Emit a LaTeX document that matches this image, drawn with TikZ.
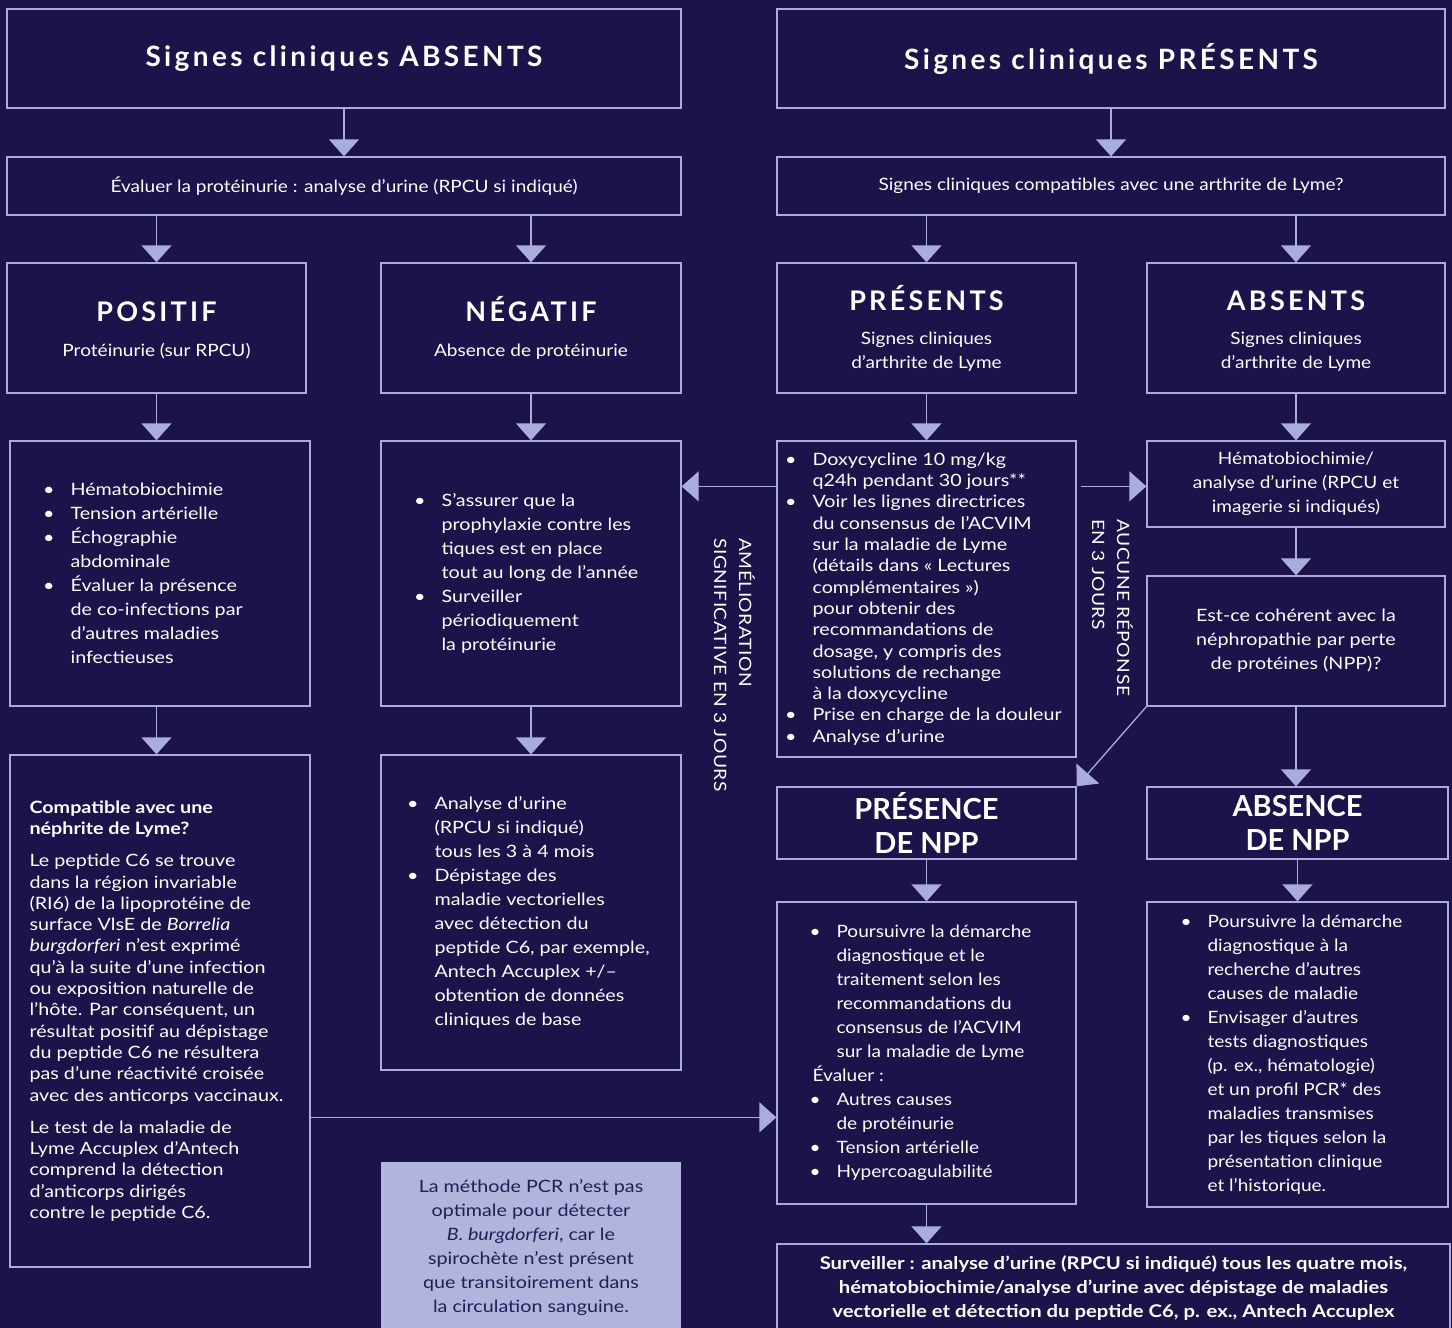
\documentclass[tikz,border=0pt]{standalone}
\usepackage{fontspec}
\setmainfont{Lato}[FakeStretch=1.16]
\newfontfamily\condfont[FakeStretch=1.12]{Lato}
\newfontfamily\plainfont{Lato}
\newfontfamily\headfont[LetterSpace=12]{Lato}
\newfontfamily\capsfont[LetterSpace=3,FakeStretch=1.13]{Lato}
\usetikzlibrary{arrows.meta}

\definecolor{navy}{HTML}{1B1349}
\definecolor{lav}{HTML}{A9ADDB}
\definecolor{notefill}{HTML}{B1B5DE}
\definecolor{notetext}{HTML}{241E58}

\newcommand{\bul}{\llap{\textbullet\hspace{16pt}}}
\newcommand{\tophead}{\headfont\bfseries\fontsize{28}{32}\selectfont}
\newcommand{\bighead}{\headfont\bfseries\fontsize{27}{32}\selectfont\vphantom{É}}
\newcommand{\npphead}{\plainfont\bfseries\fontsize{29}{34}\selectfont}

\tikzset{
  box/.style={draw=lav, line width=1.3pt, inner sep=0pt, text=white, align=center,
    font=\condfont\fontsize{17}{24}\selectfont},
  txt/.style={anchor=west, inner sep=0pt, text=white, align=left,
    font=\fontsize{17}{24}\selectfont},
  vlab/.style={rotate=-90, anchor=north west, inner sep=0pt, text=white, align=left,
    font=\capsfont\fontsize{17}{25}\selectfont},
  arr/.style={draw=lav, line width=1.3pt, -{Triangle[length=17pt,width=30pt,fill=lav]}},
}

\begin{document}
\begin{tikzpicture}[x=1pt, y=-1pt]

        \useasboundingbox (0,0) rectangle (1452,1328);
        \clip (0,0) rectangle (1452,1328);
        \fill[navy] (0,0) rectangle (1452,1328);

        % top row
        \node[box, minimum width=674pt, minimum height=99pt] (cabs) at (344,58.5) {{\tophead Signes cliniques ABSENTS}};
        \node[box, minimum width=668pt, minimum height=99pt] (cpres) at (1111,58.5) {{\tophead Signes cliniques PRÉSENTS}};

        \node[box, minimum width=674pt, minimum height=58pt] (evalp) at (344,186) {Évaluer la protéinurie : analyse d’urine (RPCU si indiqué)};
        \node[box, minimum width=668pt, minimum height=58pt] (compat) at (1111,186) {Signes cliniques compatibles avec une arthrite de Lyme?};

        % results
        \node[box, minimum width=299pt, minimum height=130pt] (posit) at (156.5,328) {{\bighead POSITIF}\\[11pt] Protéinurie (sur RPCU)};
        \node[box, minimum width=300pt, minimum height=130pt] (negat) at (531,328) {{\bighead NÉGATIF}\\[11pt] Absence de protéinurie};
        \node[box, minimum width=299pt, minimum height=130pt] (presa) at (926.5,328) {{\bighead PRÉSENTS}\\[10pt] Signes cliniques\\ d’arthrite de Lyme};
        \node[box, minimum width=298pt, minimum height=130pt] (absa) at (1296,328) {{\bighead ABSENTS}\\[10pt] Signes cliniques\\ d’arthrite de Lyme};

        % bullet boxes
        \node[box, minimum width=300pt, minimum height=265pt] (bilan) at (160,573.5) {};
        \node[txt] (bilan-t) at ([xshift=61pt]bilan.west) {\bul Hématobiochimie\\ \bul Tension artérielle\\ \bul Échographie\\ abdominale\\ \bul Évaluer la présence\\ de co-infections par\\ d’autres maladies\\ infectieuses};

        \node[box, minimum width=300pt, minimum height=265pt] (suivi) at (531,573.5) {};
        \node[txt] (suivi-t) at ([xshift=61pt]suivi.west) {\bul S’assurer que la\\ prophylaxie contre les\\ tiques est en place\\ tout au long de l’année\\ \bul Surveiller\\ périodiquement\\ la protéinurie};

        \node[box, minimum width=299pt, minimum height=316pt] (doxy) at (926.5,599) {};
        \node[txt, font=\fontsize{17}{21.3}\selectfont] (doxy-t) at ([xshift=36pt]doxy.west) {\bul Doxycycline 10 mg/kg\\ q24h pendant 30 jours**\\ \bul Voir les lignes directrices\\ du consensus de l’ACVIM\\ sur la maladie de Lyme\\ (détails dans « Lectures\\ complémentaires »)\\ pour obtenir des\\ recommandations de\\ dosage, y compris des\\ solutions de rechange\\ à la doxycycline\\ \bul Prise en charge de la douleur\\ \bul Analyse d’urine};

        \node[box, minimum width=298pt, minimum height=86pt] (hemato) at (1296,484) {Hématobiochimie/\\ analyse d’urine (RPCU et\\ imagerie si indiqués)};
        \node[box, minimum width=298pt, minimum height=130pt, font=\fontsize{17}{24}\selectfont] (nppq) at (1296,641) {Est-ce cohérent avec la\\ néphropathie par perte\\ de protéines (NPP)?};

        % lower left
        \node[box, minimum width=300pt, minimum height=512pt] (nephr) at (160,1011) {};
        \node[txt, font=\fontsize{17}{21.3}\selectfont] (nephr-t) at ([xshift=20pt]nephr.west) {\textbf{Compatible avec une}\\ \textbf{néphrite de Lyme?}\\[11pt] Le peptide C6 se trouve\\ dans la région invariable\\ (RI6) de la lipoprotéine de\\ surface VlsE de \textit{Borrelia}\\ \textit{burgdorferi} n’est exprimé\\ qu’à la suite d’une infection\\ ou exposition naturelle de\\ l'hôte. Par conséquent, un\\ résultat positif au dépistage\\ du peptide C6 ne résultera\\ pas d'une réactivité croisée\\ avec des anticorps vaccinaux.\\[11pt] Le test de la maladie de\\ Lyme Accuplex d’Antech\\ comprend la détection\\ d’anticorps dirigés\\ contre le peptide C6.};

        \node[box, minimum width=300pt, minimum height=315pt] (analyse) at (531,912.5) {};
        \node[txt] (analyse-t) at ([xshift=54pt]analyse.west) {\bul Analyse d’urine\\ (RPCU si indiqué)\\ tous les 3 à 4 mois\\ \bul Dépistage des\\ maladie vectorielles\\ avec détection du\\ peptide C6, par exemple,\\ Antech Accuplex +/–\\ obtention de données\\ cliniques de base};

        \node[box, draw=none, fill=notefill, text=notetext, font=\fontsize{17}{24}\selectfont, minimum width=300pt, minimum height=172pt] (pcr) at (531,1248) {La méthode PCR n’est pas\\ optimale pour détecter\\ \textit{B. burgdorferi}, car le\\ spirochète n’est présent\\ que transitoirement dans\\ la circulation sanguine.};

        % NPP
        \node[box, minimum width=299pt, minimum height=72pt, font=\npphead] (prnpp) at (926.5,823) {PRÉSENCE\\ DE NPP};
        \node[box, minimum width=301pt, minimum height=72pt, font=\npphead] (abnpp) at (1297.5,823) {ABSENCE\\ DE NPP};

        \node[box, minimum width=299pt, minimum height=302pt] (poursuite) at (926.5,1053) {};
        \node[txt, font=\condfont\fontsize{17}{24}\selectfont] (poursuite-t) at ([xshift=60pt]poursuite.west) {\bul Poursuivre la démarche\\ diagnostique et le\\ traitement selon les\\ recommandations du\\ consensus de l’ACVIM\\ sur la maladie de Lyme\\ \hspace*{-24pt}Évaluer :\\ \bul Autres causes\\ de protéinurie\\ \bul Tension artérielle\\ \bul Hypercoagulabilité};

        \node[box, minimum width=301pt, minimum height=305pt] (autres) at (1297.5,1054.5) {};
        \node[txt, font=\condfont\fontsize{17}{24}\selectfont] (autres-t) at ([xshift=61pt]autres.west) {\bul Poursuivre la démarche\\ diagnostique à la\\ recherche d’autres\\ causes de maladie\\ \bul Envisager d’autres\\ tests diagnostiques\\ (p. ex., hématologie)\\ et un profil PCR* des\\ maladies transmises\\ par les tiques selon la\\ présentation clinique\\ et l’historique.};

        \node[box, minimum width=673pt, minimum height=88pt, font=\bfseries\fontsize{17.5}{24}\selectfont] (surv) at (1113.5,1288) {Surveiller : analyse d’urine (RPCU si indiqué) tous les quatre mois,\\ hématobiochimie/analyse d’urine avec dépistage de maladies\\ vectorielle et détection du peptide C6, p. ex., Antech Accuplex};

        % side labels
        \node[vlab] (amel) at (755,538) {AMÉLIORATION\\ SIGNIFICATIVE EN 3 JOURS};
        \node[vlab] (aucune) at (1133,519) {AUCUNE RÉPONSE\\ EN 3 JOURS};

        % connectors
        \draw[arr] (cabs) -- (evalp);
        \draw[arr] (cpres) -- (compat);
        \draw[arr] (evalp.south -| posit.north) -- (posit.north);
        \draw[arr] (evalp.south -| negat.north) -- (negat.north);
        \draw[arr] (compat.south -| presa.north) -- (presa.north);
        \draw[arr] (compat.south -| absa.north) -- (absa.north);

        \draw[arr] (posit.south) -- (posit.south |- bilan.north);
        \draw[arr] (negat) -- (suivi);
        \draw[arr] (presa) -- (doxy);
        \draw[arr] (absa) -- (hemato);

        \draw[arr] ([yshift=-46pt]doxy.north west) -- ([yshift=-46pt]suivi.north east);
        \draw[arr] ([xshift=4pt, yshift=-46pt]doxy.north east) -- ([yshift=-46pt]hemato.north west);

        \draw[arr] (hemato) -- (nppq);
        \draw[arr] (nppq.south) -- (nppq.south |- abnpp.north);
        \draw[arr] (nppq.south west) -- (prnpp.north east);

        \draw[arr] (posit.south |- bilan.south) -- (posit.south |- nephr.north);
        \draw[arr] (suivi) -- (analyse);
        \draw[arr] (prnpp) -- (poursuite);
        \draw[arr] (abnpp) -- (autres);
        \draw[arr] ([yshift=-363pt]nephr.north east) -- ([yshift=-216pt]poursuite.north west);
        \draw[arr] (poursuite.south) -- (poursuite.south |- surv.north);

    \end{tikzpicture}
\end{document}
